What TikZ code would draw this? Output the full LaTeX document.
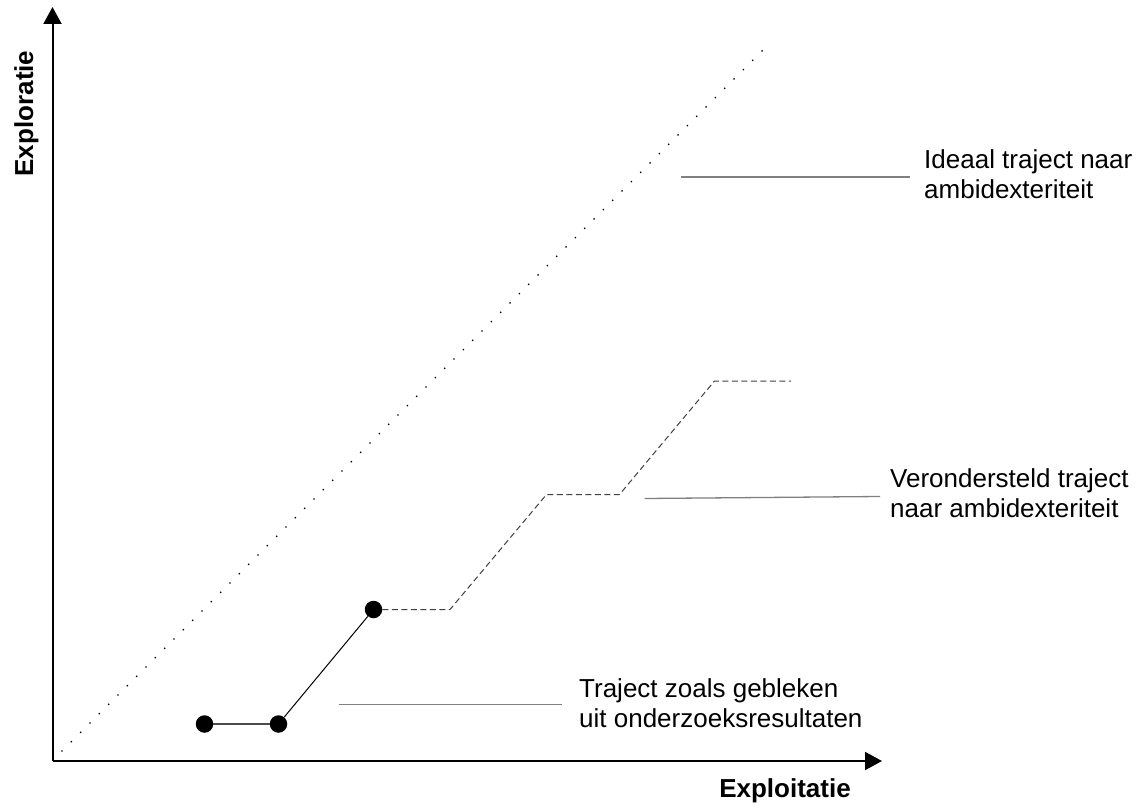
\documentclass[tikz,border=0pt]{standalone}
\usepackage{fontspec}
\setmainfont{Liberation Sans}
\usetikzlibrary{arrows.meta}
\begin{document}
\begin{tikzpicture}[x=1pt,y=-1pt,
  axis/.style={line width=2pt,-{Triangle[length=17pt,width=18pt]}},
  dotpt/.style={circle,fill=black,inner sep=0pt,minimum size=17.5pt},
  ideal/.style={line width=1.9pt,line cap=round,dash pattern=on 0pt off 13.2pt},
  measured/.style={line width=1pt},
  assumed/.style={line width=1pt,black!75,dash pattern=on 6pt off 3.5pt},
  leader/.style={line width=1.3pt,black!50},
  lbl/.style={anchor=base west,inner sep=0pt,align=left,font=\fontsize{26}{30}\selectfont},
  axlbl/.style={inner sep=0pt,font=\fontsize{26}{30}\selectfont\bfseries}]
\useasboundingbox (0,0) rectangle (1143,810);

% axes
\coordinate (O) at (52.5,761);
\coordinate (ytip) at (52.5,7);
\coordinate (xtip) at (882,761);
\draw[axis] (O) -- (ytip);
\draw[axis] (O) -- (xtip);
\node[axlbl,anchor=base] (xl) at (785,797) {Exploitatie};
\node[axlbl,anchor=base,rotate=90] (yl) at (33,113.5) {Exploratie};

% ideal diagonal
\coordinate (i0) at (62,751);
\coordinate (i1) at (771,42);
\draw[ideal] (i0) -- (i1);

% observed trajectory
\node[dotpt] (d1) at (204.5,724) {};
\node[dotpt] (d2) at (278.5,724) {};
\node[dotpt] (d3) at (373.5,609.5) {};
\draw[measured,line width=1.6pt,black!70] (d1) -- (d2);
\draw[measured] (d2) -- (d3);

% assumed trajectory
\coordinate (a1) at (450,609.5);
\coordinate (a2) at (546.5,494.5);
\coordinate (a3) at (619.5,494.5);
\coordinate (a4) at (714.5,381);
\coordinate (a5) at (791,381);
\draw[assumed] (d3) -- (a1) -- (a2) -- (a3) -- (a4) -- (a5);

% leaders and labels
\coordinate (l1a) at (680.5,177);
\coordinate (l1b) at (910,177);
\coordinate (l2a) at (644.5,498.5);
\coordinate (l2b) at (880,496.5);
\coordinate (l3a) at (338.5,704.5);
\coordinate (l3b) at (562,704.5);
\draw[leader] (l1a) -- (l1b);
\draw[leader] (l2a) -- (l2b);
\draw[leader] (l3a) -- (l3b);

% the base anchor of a two-line label sits on its second line
\node[lbl] (t1) at (924,198.5) {Ideaal traject naar\\ambidexteriteit};
\node[lbl] (t2) at (890,517.5) {Verondersteld traject\\naar ambidexteriteit};
\node[lbl] (t3) at (579,727) {Traject zoals gebleken\\uit onderzoeksresultaten};
\end{tikzpicture}
\end{document}
